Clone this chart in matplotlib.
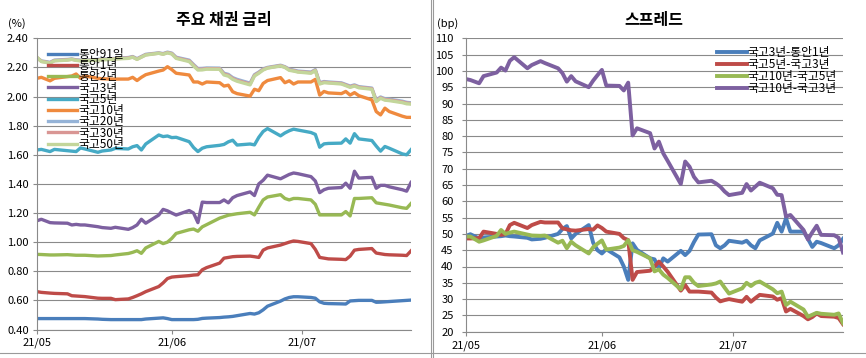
import matplotlib
matplotlib.use('Agg')
import matplotlib.pyplot as plt
import matplotlib.dates as mdates
from matplotlib.lines import Line2D
from matplotlib.ticker import FormatStrFormatter
import numpy as np
import pandas as pd

plt.rcParams['font.family'] = ['Noto Sans CJK KR', 'DejaVu Sans']

# 영업일 (2021-05-03 ~ 2021-07-28), 어린이날/석가탄신일 제외
dates = pd.bdate_range('2021-05-03', '2021-07-28', freq='C',
                       holidays=['2021-05-05', '2021-05-19'])

# 주요 채권 금리 (%)
msb91d = [0.475, 0.475, 0.475, 0.475, 0.475, 0.475, 0.475, 0.475, 0.475, 0.472,
          0.470, 0.468, 0.468, 0.468, 0.468, 0.468, 0.468, 0.472, 0.478, 0.480,
          0.475, 0.468, 0.468, 0.468, 0.468, 0.470, 0.476, 0.478, 0.482, 0.485,
          0.487, 0.490, 0.495, 0.510, 0.506, 0.515, 0.535, 0.560, 0.595, 0.610,
          0.620, 0.625, 0.625, 0.620, 0.615, 0.590, 0.580, 0.578, 0.576, 0.575,
          0.596, 0.598, 0.600, 0.600, 0.587, 0.588, 0.590, 0.592, 0.598, 0.600,
          0.602]
msb1y = [0.660, 0.655, 0.650, 0.648, 0.645, 0.632, 0.630, 0.628, 0.626, 0.615,
         0.614, 0.614, 0.605, 0.610, 0.620, 0.632, 0.645, 0.660, 0.695, 0.720,
         0.750, 0.760, 0.763, 0.770, 0.774, 0.776, 0.810, 0.825, 0.856, 0.890,
         0.895, 0.900, 0.902, 0.904, 0.900, 0.895, 0.945, 0.960, 0.980, 0.990,
         1.000, 1.008, 1.005, 0.990, 0.950, 0.895, 0.890, 0.885, 0.882, 0.880,
         0.904, 0.945, 0.950, 0.956, 0.925, 0.920, 0.915, 0.913, 0.910, 0.908,
         0.940]
msb2y = [0.916, 0.915, 0.912, 0.912, 0.914, 0.912, 0.910, 0.910, 0.910, 0.905,
         0.906, 0.908, 0.912, 0.922, 0.930, 0.941, 0.923, 0.960, 1.005, 0.990,
         1.000, 1.026, 1.060, 1.085, 1.090, 1.075, 1.105, 1.120, 1.165, 1.175,
         1.185, 1.190, 1.195, 1.205, 1.187, 1.240, 1.290, 1.310, 1.326, 1.300,
         1.290, 1.300, 1.300, 1.290, 1.260, 1.187, 1.187, 1.187, 1.187, 1.210,
         1.180, 1.300, 1.300, 1.305, 1.270, 1.265, 1.260, 1.255, 1.236, 1.232,
         1.265]
ktb3y = [1.147, 1.157, 1.134, 1.132, 1.130, 1.118, 1.122, 1.118, 1.118, 1.106,
         1.100, 1.095, 1.102, 1.088, 1.100, 1.118, 1.157, 1.130, 1.186, 1.225,
         1.215, 1.200, 1.186, 1.217, 1.200, 1.134, 1.275, 1.272, 1.272, 1.290,
         1.270, 1.305, 1.320, 1.345, 1.320, 1.400, 1.425, 1.460, 1.435, 1.450,
         1.465, 1.475, 1.470, 1.450, 1.420, 1.340, 1.360, 1.370, 1.375, 1.405,
         1.370, 1.487, 1.440, 1.445, 1.370, 1.390, 1.390, 1.380, 1.360, 1.350,
         1.410]
ktb5y = [1.633, 1.637, 1.622, 1.637, 1.628, 1.625, 1.622, 1.647, 1.640, 1.617,
         1.626, 1.633, 1.644, 1.640, 1.655, 1.663, 1.633, 1.674, 1.736, 1.725,
         1.729, 1.718, 1.720, 1.690, 1.650, 1.622, 1.645, 1.655, 1.665, 1.671,
         1.689, 1.700, 1.667, 1.674, 1.668, 1.720, 1.760, 1.780, 1.730, 1.750,
         1.765, 1.776, 1.770, 1.753, 1.740, 1.652, 1.675, 1.678, 1.680, 1.709,
         1.680, 1.745, 1.709, 1.698, 1.660, 1.625, 1.657, 1.645, 1.606, 1.600,
         1.635]
ktb10y = [2.125, 2.132, 2.108, 2.125, 2.137, 2.141, 2.155, 2.125, 2.141, 2.125,
          2.122, 2.120, 2.120, 2.120, 2.132, 2.110, 2.132, 2.150, 2.175, 2.182,
          2.205, 2.185, 2.160, 2.148, 2.100, 2.100, 2.086, 2.100, 2.095, 2.072,
          2.078, 2.033, 2.020, 2.003, 2.050, 2.040, 2.090, 2.110, 2.130, 2.095,
          2.108, 2.086, 2.100, 2.100, 2.118, 2.010, 2.035, 2.025, 2.020, 2.035,
          2.010, 2.027, 2.006, 1.977, 1.897, 1.874, 1.920, 1.897, 1.865, 1.857,
          1.857]
ktb20y = [2.265, 2.245, 2.235, 2.250, 2.255, 2.258, 2.252, 2.250, 2.250, 2.255,
          2.258, 2.260, 2.262, 2.268, 2.275, 2.260, 2.275, 2.290, 2.300, 2.295,
          2.305, 2.298, 2.270, 2.250, 2.220, 2.192, 2.193, 2.196, 2.195, 2.160,
          2.152, 2.130, 2.118, 2.092, 2.150, 2.168, 2.190, 2.200, 2.215, 2.205,
          2.188, 2.182, 2.175, 2.168, 2.185, 2.095, 2.103, 2.100, 2.094, 2.083,
          2.072, 2.080, 2.068, 2.058, 1.975, 1.997, 1.985, 1.982, 1.968, 1.960,
          1.957]
ktb30y = [2.268, 2.242, 2.232, 2.247, 2.252, 2.256, 2.250, 2.247, 2.248, 2.252,
          2.255, 2.257, 2.260, 2.265, 2.272, 2.257, 2.272, 2.287, 2.298, 2.292,
          2.302, 2.295, 2.266, 2.245, 2.215, 2.187, 2.188, 2.192, 2.191, 2.154,
          2.146, 2.124, 2.111, 2.086, 2.145, 2.164, 2.186, 2.197, 2.212, 2.202,
          2.184, 2.178, 2.171, 2.164, 2.181, 2.090, 2.099, 2.096, 2.090, 2.079,
          2.067, 2.076, 2.064, 2.054, 1.970, 1.992, 1.980, 1.977, 1.963, 1.955,
          1.952]
ktb50y = [2.270, 2.240, 2.230, 2.245, 2.250, 2.255, 2.248, 2.245, 2.246, 2.250,
          2.252, 2.255, 2.258, 2.262, 2.270, 2.255, 2.270, 2.285, 2.297, 2.290,
          2.300, 2.292, 2.262, 2.240, 2.210, 2.182, 2.183, 2.188, 2.187, 2.148,
          2.140, 2.118, 2.105, 2.080, 2.141, 2.160, 2.182, 2.195, 2.210, 2.200,
          2.180, 2.175, 2.168, 2.160, 2.178, 2.086, 2.095, 2.093, 2.086, 2.075,
          2.063, 2.072, 2.060, 2.050, 1.965, 1.988, 1.975, 1.972, 1.958, 1.950,
          1.948]

# 스프레드 (bp)
sp_3y_1y = [49.4, 49.9, 48.6, 48.9, 49.2, 49.3, 49.5, 49.3, 49.2, 48.8,
            48.3, 48.5, 48.8, 50.0, 51.5, 52.4, 48.6, 50.0, 52.7, 47.3,
            45.0, 44.0, 45.3, 42.8, 40.0, 35.9, 47.1, 45.1, 42.5, 42.2,
            39.5, 42.5, 41.5, 44.8, 43.5, 44.8, 47.5, 49.8, 49.9, 46.5,
            45.6, 46.5, 47.9, 47.3, 47.9, 46.5, 45.6, 48.0, 50.1, 53.4,
            50.7, 54.8, 50.7, 50.7, 48.5, 46.0, 47.6, 47.2, 45.6, 46.5,
            48.5]
sp_5y_3y = [48.6, 48.6, 48.7, 50.7, 50.0, 49.7, 49.9, 52.7, 53.4, 51.8,
            52.7, 53.7, 53.5, 53.5, 51.7, 51.4, 51.1, 51.0, 51.5, 51.3,
            52.6, 51.8, 50.7, 50.0, 48.7, 48.1, 35.9, 38.3, 38.7, 40.0,
            41.5, 40.0, 38.4, 32.6, 34.3, 32.3, 32.3, 32.3, 32.0, 30.5,
            29.3, 29.7, 30.0, 29.2, 30.7, 29.2, 30.3, 31.3, 30.8, 29.8,
            30.3, 26.2, 27.0, 24.8, 23.8, 24.5, 25.6, 24.8, 24.6, 24.2,
            22.3]
sp_10y_5y = [49.2, 49.2, 47.6, 48.0, 49.4, 51.2, 50.0, 50.4, 50.7, 49.8,
             49.5, 49.4, 49.5, 47.3, 47.9, 45.6, 47.6, 46.5, 44.0, 45.9,
             47.0, 48.0, 45.2, 45.8, 46.3, 48.1, 45.0, 44.5, 42.5, 38.5,
             39.1, 37.5, 36.5, 33.0, 36.7, 36.7, 35.0, 34.0, 34.5, 34.8,
             35.4, 33.5, 31.7, 33.3, 35.0, 34.0, 35.0, 35.4, 33.0, 31.8,
             32.3, 28.2, 29.2, 26.8, 24.6, 25.2, 25.8, 25.5, 25.2, 25.6,
             22.6]
sp_10y_3y = [97.5, 97.2, 96.2, 98.4, 99.5, 101.0, 100.1, 103.1, 104.2, 100.8,
             101.8, 103.0, 102.4, 100.8, 99.3, 96.7, 98.4, 96.8, 95.0, 97.0,
             98.7, 100.3, 95.5, 95.4, 94.0, 96.4, 80.2, 82.4, 80.9, 76.2,
             78.3, 74.7, 72.4, 65.3, 72.2, 70.6, 67.5, 65.8, 66.3, 65.5,
             64.5, 63.0, 61.9, 62.6, 65.3, 63.3, 64.5, 65.7, 64.0, 62.0,
             61.9, 55.3, 55.8, 51.2, 48.3, 50.5, 52.5, 49.7, 49.6, 48.8,
             44.3]

rate_names = ['통안91일', '통안1년', '통안2년', '국고3년', '국고5년',
              '국고10년', '국고20년', '국고30년', '국고50년']
rate_series = [msb91d, msb1y, msb2y, ktb3y, ktb5y, ktb10y, ktb20y, ktb30y, ktb50y]
rate_colors = ['#4A7EBB', '#BE4B48', '#98B954', '#7D60A0', '#46AAC5',
               '#EF8A3E', '#95B3D7', '#D99694', '#C3D69B']

spread_names = ['국고3년-통안1년', '국고5년-국고3년', '국고10년-국고5년', '국고10년-국고3년']
spread_series = [sp_3y_1y, sp_5y_3y, sp_10y_5y, sp_10y_3y]
spread_colors = ['#4A7EBB', '#BE4B48', '#98B954', '#7D60A0']

W, H = 866, 358
grid_c = '#8A8A8A'

fig = plt.figure(figsize=(W / 100, H / 100), dpi=100)
ax1 = fig.add_axes([37 / W, 1 - 329.5 / H, 374 / W, 291.2 / H])
ax2 = fig.add_axes([466 / W, 1 - 331.7 / H, 377 / W, 293.4 / H])


def style(ax, lo, hi, step, fmt, ypad):
    ax.set_xlim(dates[0], dates[-1])
    ax.set_ylim(lo, hi)
    ax.set_yticks(np.arange(lo, hi + step / 2, step))
    ax.yaxis.set_major_formatter(FormatStrFormatter(fmt))
    ax.xaxis.set_major_locator(mdates.MonthLocator(bymonthday=3))
    ax.xaxis.set_major_formatter(mdates.DateFormatter('%y/%m'))
    ax.grid(axis='y', color=grid_c, lw=0.8)
    ax.set_axisbelow(True)
    for s in ['top', 'right']:
        ax.spines[s].set_visible(False)
    for s in ['left', 'bottom']:
        ax.spines[s].set_color(grid_c)
        ax.spines[s].set_linewidth(0.8)
    ax.tick_params(axis='both', length=3, width=0.8, color=grid_c, labelsize=8)
    ax.tick_params(axis='y', pad=ypad)
    ax.tick_params(axis='x', pad=3)


for name, vals, c in zip(rate_names, rate_series, rate_colors):
    ax1.plot(dates, vals, color=c, lw=2.4, label=name, solid_joinstyle='round')
style(ax1, 0.4, 2.4, 0.2, '%.2f', 3)
ax1.legend(loc='upper left', bbox_to_anchor=(0.029, 0.967), frameon=False,
           fontsize=8.5, handlelength=2.5, handletextpad=0.1, labelspacing=-0.15,
           borderpad=0, borderaxespad=0)

for name, vals, c in zip(spread_names, spread_series, spread_colors):
    ax2.plot(dates, vals, color=c, lw=2.8, label=name, solid_joinstyle='round')
style(ax2, 20, 110, 5, '%d', 6)
ax2.legend(loc='upper left', bbox_to_anchor=(0.666, 0.975), frameon=False,
           fontsize=8.5, handlelength=2.5, handletextpad=0.1, labelspacing=-0.07,
           borderpad=0, borderaxespad=0)

fig.text((37 + 187) / W, 1 - 20 / H, '주요 채권 금리', ha='center', va='center',
         fontsize=11.5, fontweight='bold')
fig.text((466 + 188) / W, 1 - 20 / H, '스프레드', ha='center', va='center',
         fontsize=11.5, fontweight='bold')
fig.text(17 / W, 1 - 24 / H, '(%)', ha='center', va='center', fontsize=8)
fig.text(448 / W, 1 - 24 / H, '(bp)', ha='center', va='center', fontsize=8)

# 패널 테두리
frame_c = '#9A9A9A'
fig.add_artist(Line2D([0, 1], [1 - 352.5 / H] * 2, color=frame_c, lw=0.8))
fig.add_artist(Line2D([430.5 / W] * 2, [0, 1], color=frame_c, lw=0.8))
fig.add_artist(Line2D([433.5 / W] * 2, [0, 1], color=frame_c, lw=0.8))

fig.savefig('out.png', dpi=100)
